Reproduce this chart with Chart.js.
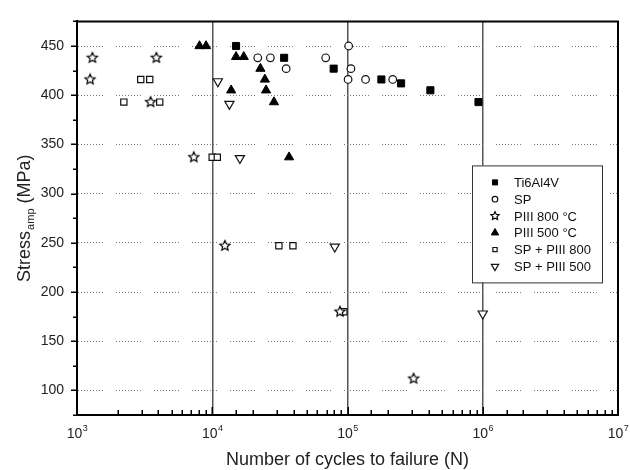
<!DOCTYPE html>
<html lang="en">
<head>
  <meta charset="UTF-8" />
  <title>Stress amplitude vs cycles to failure</title>
  <script src="https://cdn.jsdelivr.net/npm/chart.js"></script>
  <style>
    html, body {
      margin: 0;
      padding: 0;
      background: #fff;
    }
    #wrap {
      width: 630px;
      height: 470px;
    }
  </style>
</head>
<body>
  <div id="wrap">
    <canvas id="sn-chart" width="630" height="470"></canvas>
  </div>

  <script>
    const FONT = '"Liberation Sans", Arial, sans-serif';

    // cycles to failure (N) and stress amplitude (MPa)
    const ti6al4vN = [15000, 34000, 79000, 178000, 249000, 410000, 930000];
    const ti6al4vS = [450, 438, 427, 416, 412, 405, 393];

    const spN = [21700, 26900, 35200, 69000, 102000, 106000, 101000, 136000, 216000];
    const spS = [438, 438, 427, 438, 450, 427, 416, 416, 416];

    const piii800N = [1250, 1300, 3860, 3500, 7300, 12400, 88000, 308000];
    const piii800S = [416, 438, 438, 393, 337, 247, 180, 112];

    const piii500N = [8050, 9000, 15000, 17100, 13800, 22700, 24500, 25000, 28600, 37000];
    const piii500S = [450, 450, 439, 439, 405, 427, 416, 405, 393, 337];

    const spPiii800N = [2220, 2960, 3450, 4090, 9990, 10900, 31100, 39500, 94000];
    const spPiii800S = [393, 416, 416, 393, 337, 337, 247, 247, 180];

    const spPiii500N = [11000, 13400, 16000, 80500, 1000000];
    const spPiii500S = [414, 391, 336, 246, 178];

    const seriesNames = ['Ti6Al4V', 'SP', 'PIII 800 °C', 'PIII 500 °C', 'SP + PIII 800', 'SP + PIII 500'];
    const xDecades = [3, 4, 5, 6, 7];
    const yLabels = [100, 150, 200, 250, 300, 350, 400, 450];

    function pairs(xs, ys) {
      return xs.map((x, i) => ({ x: x, y: ys[i] }));
    }

    // open five-pointed star, Chart.js has no outline star
    function makeStar(outer, inner) {
      const size = Math.ceil(outer * 2 + 3);
      const c = document.createElement('canvas');
      c.width = size;
      c.height = size;
      const g = c.getContext('2d');
      const cx = size / 2, cy = size / 2;
      g.beginPath();
      for (let i = 0; i < 10; i++) {
        const r = i % 2 === 0 ? outer : inner;
        const a = -Math.PI / 2 + i * Math.PI / 5;
        const px = cx + r * Math.cos(a), py = cy + r * Math.sin(a);
        if (i === 0) g.moveTo(px, py); else g.lineTo(px, py);
      }
      g.closePath();
      g.fillStyle = '#fff';
      g.fill();
      g.lineWidth = 1.2;
      g.strokeStyle = '#000';
      g.stroke();
      return c;
    }
    const starImg = makeStar(5.3, 2.5);
    const starLegendImg = makeStar(4.3, 2.1);

    const datasets = [
      { label: seriesNames[0], data: pairs(ti6al4vN, ti6al4vS), pointStyle: 'rect', pointRadius: 5,
        backgroundColor: '#000', borderColor: '#000', borderWidth: 1, legendRadius: 3.6 },
      { label: seriesNames[1], data: pairs(spN, spS), pointStyle: 'circle', pointRadius: 3.8,
        backgroundColor: '#fff', borderColor: '#111', borderWidth: 1.2, legendRadius: 2.8 },
      { label: seriesNames[2], data: pairs(piii800N, piii800S), pointStyle: starImg, pointRadius: 5,
        backgroundColor: '#fff', borderColor: '#000', borderWidth: 1, legendImg: starLegendImg },
      { label: seriesNames[3], data: pairs(piii500N, piii500S), pointStyle: 'triangle', pointRadius: 5.3,
        backgroundColor: '#000', borderColor: '#000', borderWidth: 1, legendRadius: 4.3 },
      { label: seriesNames[4], data: pairs(spPiii800N, spPiii800S), pointStyle: 'rect', pointRadius: 4.4,
        backgroundColor: '#fff', borderColor: '#111', borderWidth: 1.2, legendRadius: 3 },
      { label: seriesNames[5], data: pairs(spPiii500N, spPiii500S), pointStyle: 'triangle', pointRadius: 5.3,
        rotation: 180, backgroundColor: '#fff', borderColor: '#111', borderWidth: 1.2, legendRadius: 4.2 }
    ];
    datasets.forEach(d => {
      d.showLine = false;
      d.pointHoverRadius = d.pointRadius;
    });

    function isDecade(v) {
      const e = Math.log10(v);
      return Math.abs(e - Math.round(e)) < 1e-9;
    }

    // dotted grid pattern like the original (runs of dots with short breaks)
    const dotted = [];
    for (let i = 0; i < 8; i++) dotted.push(1, 2);
    dotted.push(1, 13);

    const decorations = {
      id: 'decorations',
      afterDraw(chart) {
        const { ctx, chartArea: a, scales: { x, y } } = chart;
        ctx.save();

        // frame top and right
        ctx.strokeStyle = '#000';
        ctx.lineWidth = 2;
        ctx.beginPath();
        ctx.moveTo(a.left - 1, a.top);
        ctx.lineTo(a.right, a.top);
        ctx.lineTo(a.right, a.bottom + 1);
        ctx.stroke();

        // x ticks, pointing inward
        ctx.lineWidth = 1.5;
        x.ticks.forEach(t => {
          const px = Math.round(x.getPixelForValue(t.value)) + 0.25;
          const len = isDecade(t.value) ? 8 : 5;
          ctx.beginPath();
          ctx.moveTo(px, a.bottom);
          ctx.lineTo(px, a.bottom - len);
          ctx.stroke();
        });

        // y ticks, pointing outward, major and minor
        for (let v = 75; v <= 475; v += 25) {
          const py = Math.round(y.getPixelForValue(v)) + 0.25;
          const len = v % 50 === 0 ? 6 : 4;
          ctx.beginPath();
          ctx.moveTo(a.left, py);
          ctx.lineTo(a.left - len, py);
          ctx.stroke();
        }

        // x tick labels with superscript exponents
        ctx.fillStyle = '#222';
        ctx.textBaseline = 'alphabetic';
        xDecades.forEach(e => {
          const px = x.getPixelForValue(Math.pow(10, e));
          ctx.font = '14px ' + FONT;
          const wBase = ctx.measureText('10').width;
          ctx.font = '9px ' + FONT;
          const wExp = ctx.measureText(String(e)).width;
          const left = px - (wBase + wExp) / 2;
          ctx.font = '14px ' + FONT;
          ctx.textAlign = 'left';
          ctx.fillText('10', left, 438);
          ctx.font = '9px ' + FONT;
          ctx.fillText(String(e), left + wBase + 0.5, 431);
        });

        // x axis title
        ctx.font = '18px ' + FONT;
        ctx.textAlign = 'center';
        ctx.fillText('Number of cycles to failure (N)', (a.left + a.right) / 2, 465);

        // y axis title with "amp" subscript, centred on the axis
        ctx.font = '18px ' + FONT;
        const wS = ctx.measureText('Stress').width;
        const wP = ctx.measureText('(MPa)').width;
        ctx.font = '11px ' + FONT;
        const wA = ctx.measureText('amp').width;
        const total = wS + 1 + wA + 5 + wP;
        ctx.translate(30, (a.top + a.bottom) / 2 + total / 2);
        ctx.rotate(-Math.PI / 2);
        ctx.textAlign = 'left';
        ctx.font = '18px ' + FONT;
        ctx.fillText('Stress', 0, 0);
        ctx.font = '11px ' + FONT;
        ctx.fillText('amp', wS + 1, 4);
        ctx.font = '18px ' + FONT;
        ctx.fillText('(MPa)', wS + 1 + wA + 5, 0);
        ctx.restore();

        // legend box inside plot
        const bx = a.right - 146, by = a.top + 144, bw = 130, bh = 117;
        ctx.save();
        ctx.fillStyle = '#fff';
        ctx.fillRect(bx, by, bw, bh);
        ctx.strokeStyle = '#333';
        ctx.lineWidth = 1;
        ctx.strokeRect(bx + 0.5, by + 0.5, bw, bh);
        ctx.font = '13px ' + FONT;
        ctx.textAlign = 'left';
        ctx.textBaseline = 'middle';
        chart.data.datasets.forEach((d, i) => {
          const cy = by + 17 + i * 16.8;
          const cx = bx + 23;
          ctx.fillStyle = d.backgroundColor;
          ctx.strokeStyle = d.borderColor;
          ctx.lineWidth = d.borderWidth;
          Chart.helpers.drawPoint(ctx, {
            pointStyle: d.legendImg || d.pointStyle,
            rotation: d.rotation || 0,
            radius: d.legendRadius || 3,
            borderWidth: d.borderWidth
          }, cx, cy);
          ctx.fillStyle = '#111';
          ctx.fillText(d.label, bx + 42, cy + 1);
        });
        ctx.restore();
      }
    };

    new Chart(document.getElementById('sn-chart').getContext('2d'), {
      type: 'scatter',
      data: { datasets: datasets },
      options: {
        responsive: false,
        animation: false,
        layout: { padding: { top: 12, right: 12, left: 0, bottom: 0 } },
        plugins: {
          legend: { display: false },
          tooltip: { enabled: false }
        },
        scales: {
          x: {
            type: 'logarithmic',
            min: 1000,
            max: 10000000,
            afterFit: s => { s.height = 55; },
            ticks: { display: false, autoSkip: false },
            grid: {
              drawTicks: false,
              lineWidth: 1.5,
              color: c => {
                const v = c.tick && c.tick.value;
                return v && isDecade(v) && v > 1000 && v < 10000000 ? '#555' : 'rgba(0,0,0,0)';
              }
            },
            border: { display: true, color: '#000', width: 2 }
          },
          y: {
            min: 75,
            max: 475,
            afterFit: s => { s.width = 77; },
            afterBuildTicks: s => {
              s.ticks = [];
              for (let v = 75; v <= 475; v += 25) s.ticks.push({ value: v });
            },
            ticks: {
              padding: 13,
              color: '#222',
              font: { family: FONT, size: 14 },
              callback: v => (yLabels.includes(v) ? String(v) : '')
            },
            grid: {
              drawTicks: false,
              lineWidth: 1,
              color: c => {
                const v = c.tick && c.tick.value;
                return yLabels.includes(v) ? '#777' : 'rgba(0,0,0,0)';
              }
            },
            border: { display: true, color: '#000', width: 2, dash: dotted }
          }
        }
      },
      plugins: [decorations]
    });
  </script>
</body>
</html>
